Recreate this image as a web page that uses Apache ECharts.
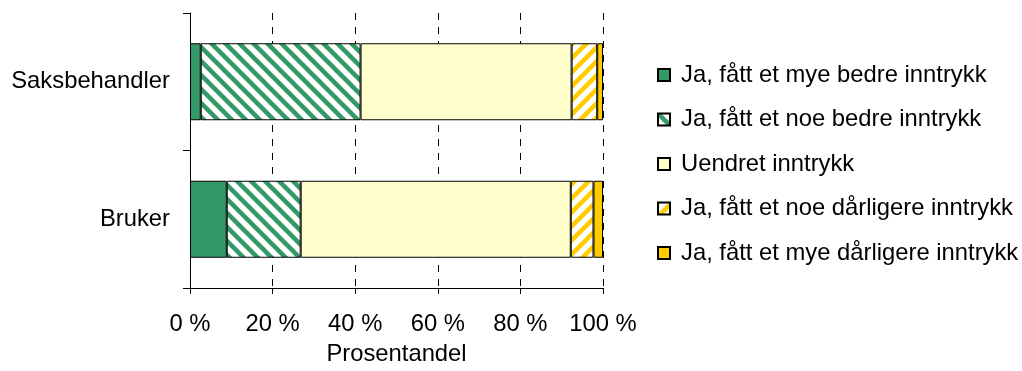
<!DOCTYPE html>
<html>
<head>
<meta charset="utf-8">
<script src="https://cdn.jsdelivr.net/npm/echarts@6/dist/echarts.min.js"></script>
<style>
  html, body { margin: 0; padding: 0; background: #fff; }
  #chart { width: 1022px; height: 371px; }
</style>
</head>
<body>
<div id="chart"></div>
<script>
// Respondent groups (top to bottom)
const categories = ['Saksbehandler', 'Bruker'];

// Answer options, in stacking order
const seriesNames = [
  'Ja, fått et mye bedre inntrykk',
  'Ja, fått et noe bedre inntrykk',
  'Uendret inntrykk',
  'Ja, fått et noe dårligere inntrykk',
  'Ja, fått et mye dårligere inntrykk'
];

// Share of respondents (%) per group
const myeBedre      = [2.6, 8.9];
const noeBedre      = [38.7, 17.9];
const uendret       = [51.1, 65.4];
const noeDarligere  = [6.2, 5.5];
const myeDarligere  = [1.4, 2.3];

const xTicks = [0, 20, 40, 60, 80, 100];

const FONT = '"Liberation Sans", Arial, sans-serif';
const FS = 23.8;

// Diagonal hatch tile: dir = 1 draws "\" stripes, dir = -1 draws "/" stripes
function hatch(color, dir) {
  const s = 14;
  const c = document.createElement('canvas');
  c.width = s; c.height = s;
  const g = c.getContext('2d');
  g.fillStyle = '#ffffff';
  g.fillRect(0, 0, s, s);
  g.strokeStyle = color;
  g.lineWidth = 4.5;
  for (let k = -1; k <= 1; k++) {
    g.beginPath();
    if (dir > 0) {
      g.moveTo(k * s - 2, -2);
      g.lineTo(k * s + s + 2, s + 2);
    } else {
      g.moveTo(k * s - 2, s + 2);
      g.lineTo(k * s + s + 2, -2);
    }
    g.stroke();
  }
  return { image: c, repeat: 'repeat' };
}

const fills = [
  '#339966',
  hatch('#339966', 1),
  '#FFFFCC',
  hatch('#FFCC00', -1),
  '#FFCC00'
];
const values = [myeBedre, noeBedre, uendret, noeDarligere, myeDarligere];

const chart = echarts.init(document.getElementById('chart'), null, { renderer: 'canvas' });

chart.setOption({
  animation: false,
  backgroundColor: '#ffffff',
  textStyle: { fontFamily: FONT, color: '#000' },
  grid: { left: 190, right: 419, top: 13, bottom: 81, containLabel: false },
  legend: {
    orient: 'vertical',
    left: 657,
    top: 62,
    padding: 0,
    itemWidth: 12,
    itemHeight: 12,
    itemGap: 18.5,
    icon: 'rect',
    textStyle: { fontFamily: FONT, fontSize: FS, color: '#000', lineHeight: 26, padding: [0, 0, 0, 6] },
    data: seriesNames
  },
  xAxis: {
    type: 'value',
    min: xTicks[0],
    max: xTicks[xTicks.length - 1],
    interval: 20,
    name: 'Prosentandel',
    nameLocation: 'middle',
    nameGap: 54,
    nameTextStyle: { fontFamily: FONT, fontSize: FS, color: '#000' },
    axisLine: { show: true, lineStyle: { color: '#000', width: 1 } },
    axisTick: { show: true, inside: false, length: 6, lineStyle: { color: '#000' } },
    axisLabel: { fontFamily: FONT, fontSize: FS, color: '#000', margin: 24, formatter: '{value} %' },
    splitLine: { show: true, lineStyle: { color: '#000', type: [7, 7], width: 1 } }
  },
  yAxis: {
    type: 'category',
    data: categories,
    inverse: true,
    axisLine: { show: true, lineStyle: { color: '#000', width: 1 } },
    axisTick: { show: true, inside: false, length: 7, alignWithLabel: false, lineStyle: { color: '#000' } },
    axisLabel: { fontFamily: FONT, fontSize: FS, color: '#000', margin: 20 },
    splitLine: { show: false }
  },
  series: seriesNames.map((name, i) => ({
    name,
    type: 'bar',
    stack: 'total',
    barWidth: 77,
    data: values[i],
    itemStyle: { color: fills[i], borderColor: '#000', borderWidth: 1 },
    emphasis: { disabled: true }
  }))
});
</script>
</body>
</html>
